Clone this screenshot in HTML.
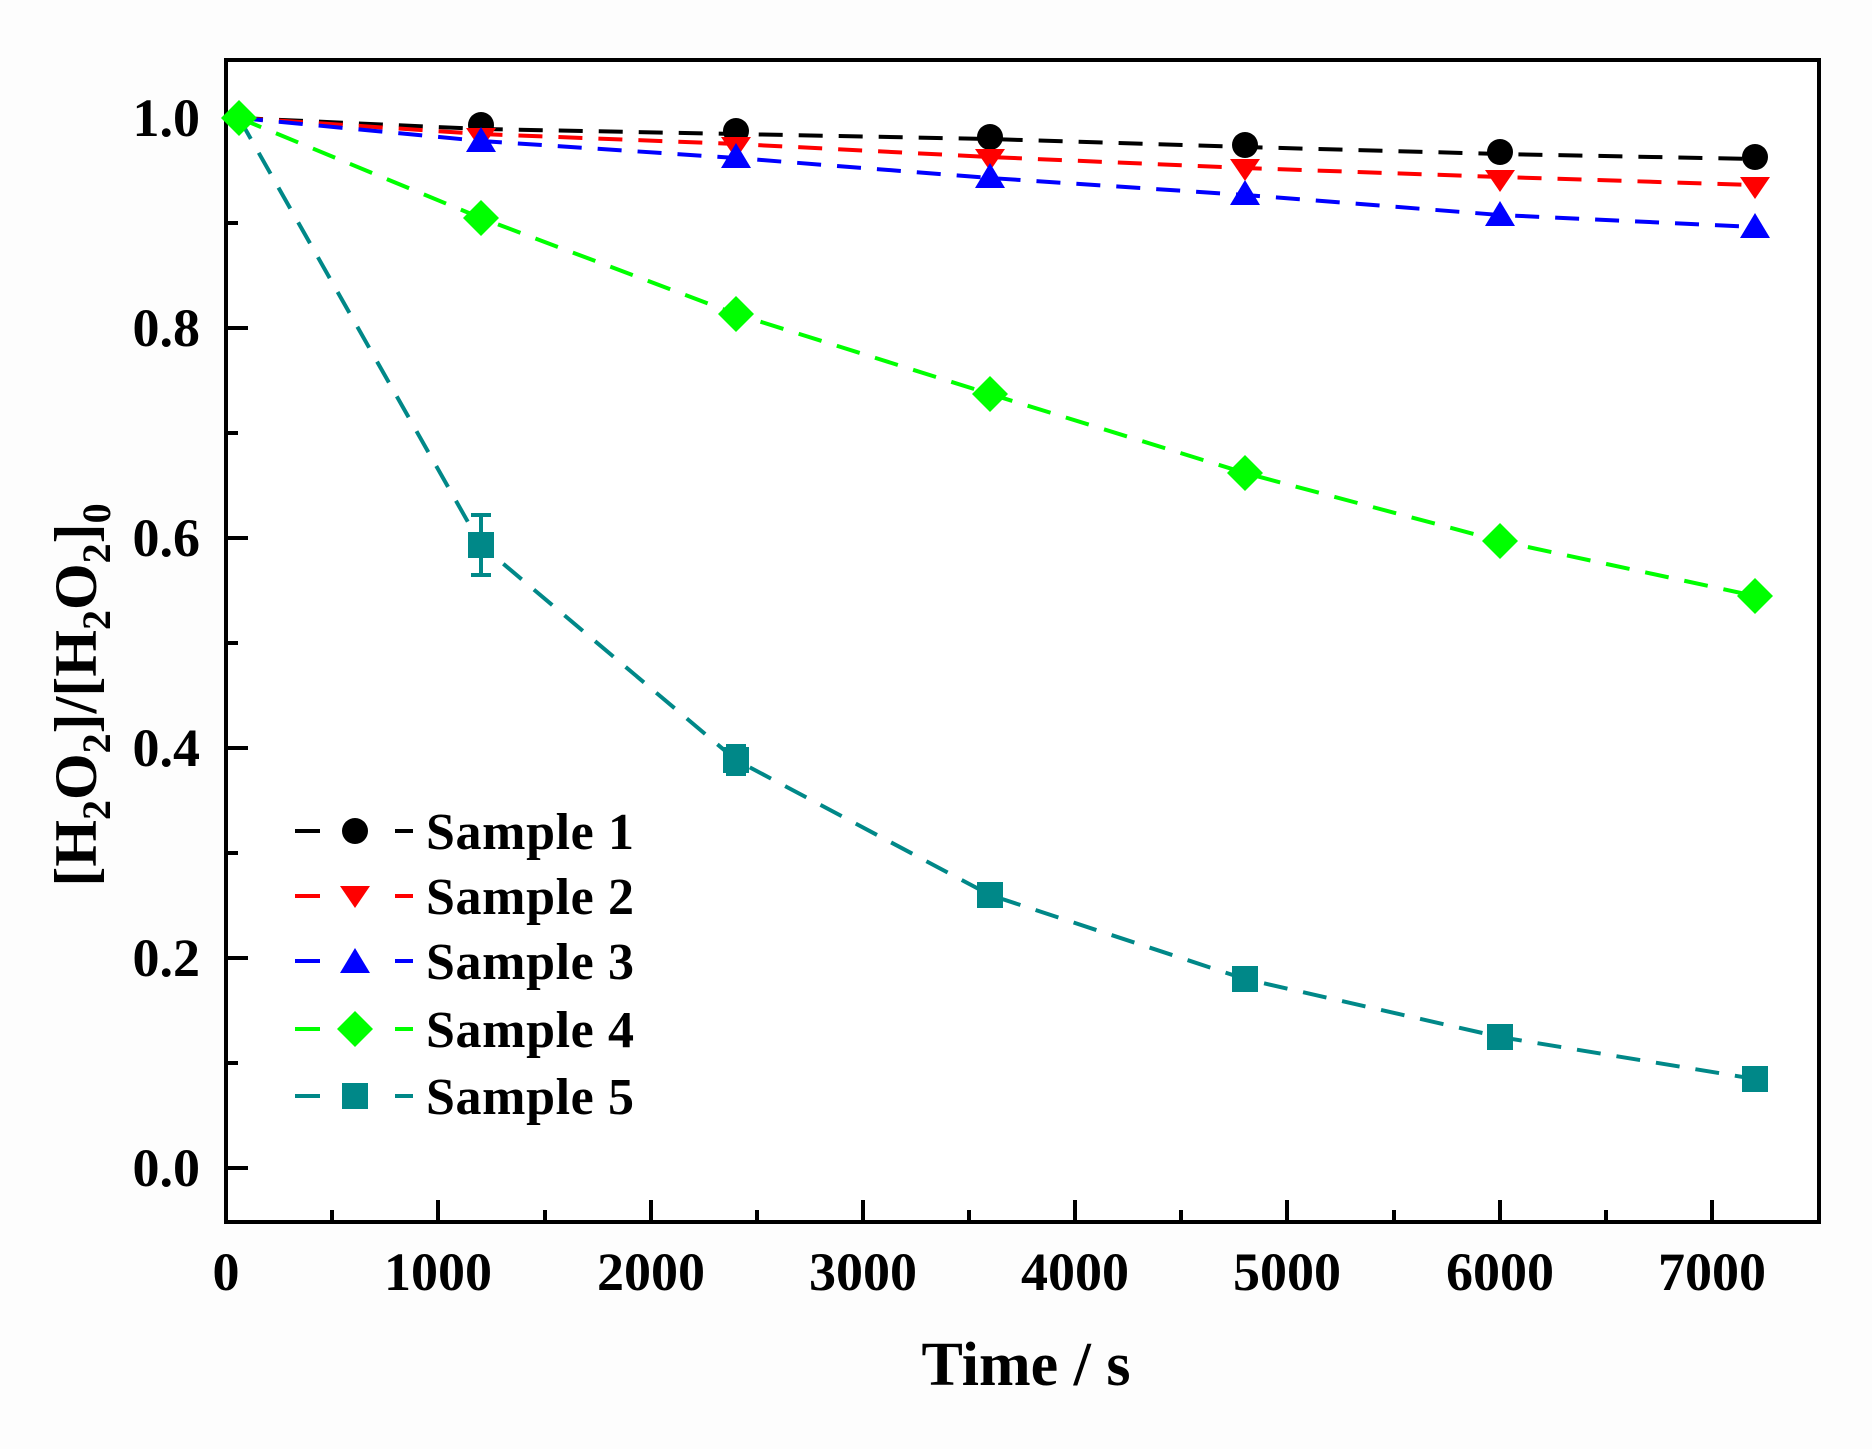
<!DOCTYPE html>
<html><head><style>html,body{margin:0;padding:0;background:#fff}svg{display:block}</style></head><body>
<svg width="1872" height="1449" viewBox="0 0 1872 1449" xmlns="http://www.w3.org/2000/svg" font-family="Liberation Serif, serif" font-weight="bold">
<rect width="1872" height="1449" fill="#fdfdfd"/>
<rect x="226" y="60" width="1593" height="1162" fill="#fff" stroke="#000" stroke-width="4"/>
<g stroke="#000" stroke-width="4">
<line x1="226" y1="118" x2="248" y2="118"/><line x1="226" y1="223" x2="238" y2="223"/>
<line x1="226" y1="328" x2="248" y2="328"/><line x1="226" y1="433" x2="238" y2="433"/>
<line x1="226" y1="538" x2="248" y2="538"/><line x1="226" y1="643" x2="238" y2="643"/>
<line x1="226" y1="748" x2="248" y2="748"/><line x1="226" y1="853" x2="238" y2="853"/>
<line x1="226" y1="958" x2="248" y2="958"/><line x1="226" y1="1063" x2="238" y2="1063"/>
<line x1="226" y1="1168" x2="248" y2="1168"/>
<line x1="332" y1="1222" x2="332" y2="1210"/><line x1="438" y1="1222" x2="438" y2="1200"/>
<line x1="545" y1="1222" x2="545" y2="1210"/><line x1="651" y1="1222" x2="651" y2="1200"/>
<line x1="757" y1="1222" x2="757" y2="1210"/><line x1="863" y1="1222" x2="863" y2="1200"/>
<line x1="969" y1="1222" x2="969" y2="1210"/><line x1="1075" y1="1222" x2="1075" y2="1200"/>
<line x1="1181" y1="1222" x2="1181" y2="1210"/><line x1="1287" y1="1222" x2="1287" y2="1200"/>
<line x1="1394" y1="1222" x2="1394" y2="1210"/><line x1="1500" y1="1222" x2="1500" y2="1200"/>
<line x1="1606" y1="1222" x2="1606" y2="1210"/><line x1="1712" y1="1222" x2="1712" y2="1200"/>
</g>
<g font-size="54" text-anchor="end">
<text x="200" y="136">1.0</text><text x="200" y="346">0.8</text><text x="200" y="556">0.6</text>
<text x="200" y="766">0.4</text><text x="200" y="976">0.2</text><text x="200" y="1186">0.0</text>
</g>
<g font-size="54" text-anchor="middle">
<text x="226" y="1290">0</text><text x="438" y="1290">1000</text><text x="651" y="1290">2000</text>
<text x="863" y="1290">3000</text><text x="1075" y="1290">4000</text><text x="1287" y="1290">5000</text>
<text x="1500" y="1290">6000</text><text x="1712" y="1290">7000</text>
</g>
<text x="1026" y="1385" font-size="62" text-anchor="middle">Time / s</text>
<text transform="translate(96,695) rotate(-90)" font-size="60" text-anchor="middle">[H<tspan font-size="40" dy="14">2</tspan><tspan dy="-14">O</tspan><tspan font-size="40" dy="14">2</tspan><tspan dy="-14">]/[H</tspan><tspan font-size="40" dy="14">2</tspan><tspan dy="-14">O</tspan><tspan font-size="40" dy="14">2</tspan><tspan dy="-14">]</tspan><tspan font-size="40" dy="14">0</tspan></text>
<g fill="none" stroke-width="4" stroke-dasharray="24,16">
<polyline stroke="#000" points="239,118 481,129 736,134 990,139 1245,147 1500,154 1755,159"/>
<polyline stroke="#f00" points="239,118 481,134 736,144 990,157 1245,168 1500,177 1755,185"/>
<polyline stroke="#00f" points="239,118 481,141 736,158 990,178 1245,195 1500,215 1755,227"/>
<polyline stroke="#0f0" points="239,118 481,218 736,314 990,394 1245,473 1500,541 1755,596"/>
<polyline stroke="#088" points="239,118 481,545 736,760 990,895 1245,979 1500,1037 1755,1079"/>
</g>
<g fill="#000"><circle cx="481" cy="125" r="13"/><circle cx="736" cy="131" r="13"/><circle cx="990" cy="137" r="13"/><circle cx="1245" cy="145" r="13"/><circle cx="1500" cy="152" r="13"/><circle cx="1755" cy="157" r="13"/></g>
<g fill="#f00"><path d="M466,128h30l-15,22z"/><path d="M721,137h30l-15,22z"/><path d="M975,149h30l-15,22z"/><path d="M1230,159h30l-15,22z"/><path d="M1485,170h30l-15,22z"/><path d="M1740,177h30l-15,22z"/></g>
<g fill="#00f"><path d="M466,152h30l-15,-25z"/><path d="M721,168h30l-15,-25z"/><path d="M975,188h30l-15,-25z"/><path d="M1230,205h30l-15,-25z"/><path d="M1485,226h30l-15,-25z"/><path d="M1740,238h30l-15,-25z"/></g>
<g fill="#0f0"><path d="M239,100l18,18l-18,18l-18,-18z"/><path d="M481,200l18,18l-18,18l-18,-18z"/><path d="M736,296l18,18l-18,18l-18,-18z"/><path d="M990,376l18,18l-18,18l-18,-18z"/><path d="M1245,455l18,18l-18,18l-18,-18z"/><path d="M1500,523l18,18l-18,18l-18,-18z"/><path d="M1755,578l18,18l-18,18l-18,-18z"/></g>
<g fill="#088"><rect x="468" y="532" width="26" height="26"/><rect x="723" y="747" width="26" height="26"/><rect x="977" y="882" width="26" height="26"/><rect x="1232" y="966" width="26" height="26"/><rect x="1487" y="1024" width="26" height="26"/><rect x="1742" y="1066" width="26" height="26"/></g>
<g stroke="#088" stroke-width="4" fill="none"><path d="M481,515v60M471,515h20M471,575h20"/><path d="M736,746v28M726,746h20M726,774h20"/></g>
<g stroke-width="4">
<line x1="295" y1="831" x2="320" y2="831" stroke="#000"/><line x1="395" y1="831" x2="413" y2="831" stroke="#000"/>
<line x1="295" y1="896" x2="320" y2="896" stroke="#f00"/><line x1="395" y1="896" x2="413" y2="896" stroke="#f00"/>
<line x1="295" y1="961" x2="320" y2="961" stroke="#00f"/><line x1="395" y1="961" x2="413" y2="961" stroke="#00f"/>
<line x1="295" y1="1029" x2="320" y2="1029" stroke="#0f0"/><line x1="395" y1="1029" x2="413" y2="1029" stroke="#0f0"/>
<line x1="295" y1="1096" x2="320" y2="1096" stroke="#088"/><line x1="395" y1="1096" x2="413" y2="1096" stroke="#088"/>
</g>
<circle cx="355" cy="831" r="13" fill="#000"/>
<path d="M340,886h30l-15,22z" fill="#f00"/>
<path d="M340,973h30l-15,-25z" fill="#00f"/>
<path d="M355,1011l18,18l-18,18l-18,-18z" fill="#0f0"/>
<rect x="342" y="1083" width="26" height="26" fill="#088"/>
<g font-size="52">
<text x="426" y="849" textLength="208">Sample 1</text>
<text x="426" y="914" textLength="208">Sample 2</text>
<text x="426" y="979" textLength="208">Sample 3</text>
<text x="426" y="1047" textLength="208">Sample 4</text>
<text x="426" y="1114" textLength="208">Sample 5</text>
</g>
</svg>
</body></html>
